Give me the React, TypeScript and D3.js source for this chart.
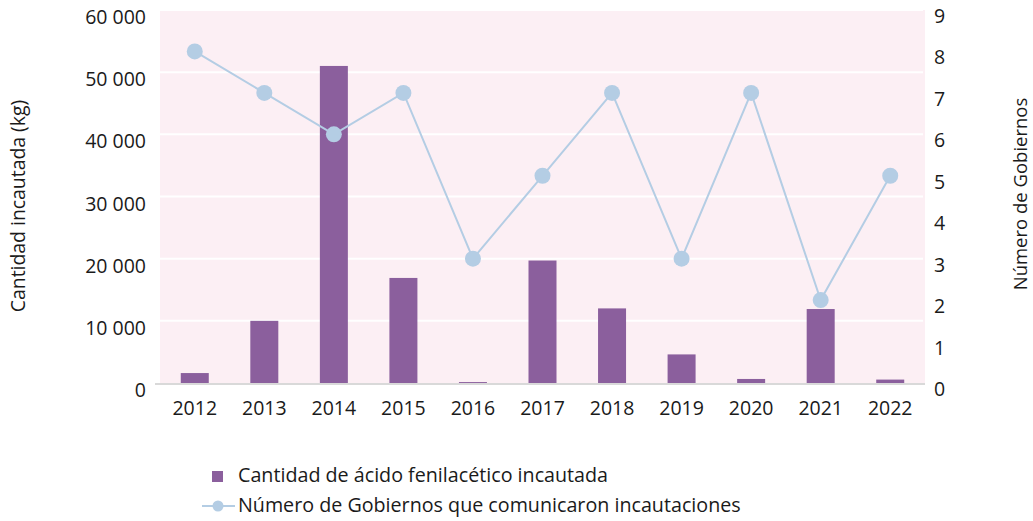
import React from "react";
import * as d3 from "d3";

const years = ["2012","2013","2014","2015","2016","2017","2018","2019","2020","2021","2022"];
const seizedKg = [1600, 10000, 51000, 16900, 150, 19700, 12000, 4600, 650, 11900, 550];
const governments = [8, 7, 6, 7, 3, 5, 7, 3, 7, 2, 5];
const leftTicks = [0, 10000, 20000, 30000, 40000, 50000, 60000];
const rightTicks = [0, 1, 2, 3, 4, 5, 6, 7, 8, 9];

const W = 1033, H = 521;
const L = 160, R = 925, T = 10, B = 383;
const font = "'Open Sans', 'Noto Sans', sans-serif";
const barColor = "#8B5F9D";
const lineColor = "#B4CDE4";
const txt = "#1a1a1a";
const fmt = (v: number) => d3.format(",")(v).replace(/,/g, " ");

export default function App() {
  const xc = d3.scaleBand<string>().domain(years).range([L, R]);
  const yL = d3.scaleLinear().domain([0, 60000]).range([B, T]);
  const yR = d3.scaleLinear().domain([0, 9]).range([B, T]);
  const cx = (y: string) => xc(y)! + xc.bandwidth() / 2;
  const line = d3.line<number>().x((_, i) => cx(years[i])).y(d => yR(d));
  const bw = 28;
  return (
    <svg width={W} height={H} style={{ position: "absolute", left: 0, top: 0, fontFamily: font }}>
      <rect x={L} y={T} width={R - L} height={B - T} fill="#FCEFF4" />
      {leftTicks.slice(1).map(t => (
        <line key={t} x1={L} x2={R - 2} y1={yL(t)} y2={yL(t)} stroke="#fff" strokeWidth={2} />
      ))}
      <line x1={L - 5} x2={R} y1={B + 1} y2={B + 1} stroke="#d9d9d9" strokeWidth={2} />
      {years.map((y, i) => (
        <rect key={y} x={cx(y) - bw / 2} y={yL(seizedKg[i])} width={bw} height={B - yL(seizedKg[i])} fill={barColor} />
      ))}
      <path d={line(governments)!} fill="none" stroke={lineColor} strokeWidth={2} />
      {governments.map((g, i) => (
        <circle key={i} cx={cx(years[i])} cy={yR(g)} r={8} fill={lineColor} />
      ))}
      {leftTicks.map(t => (
        <text key={t} x={146} y={yL(t) + 14} textAnchor="end" fontSize={19.5} fill={txt}>{fmt(t)}</text>
      ))}
      {rightTicks.map(t => (
        <text key={t} x={934} y={yR(t) + 13} textAnchor="start" fontSize={19.5} fill={txt}>{t}</text>
      ))}
      {years.map(y => (
        <text key={y} x={cx(y)} y={415} textAnchor="middle" fontSize={19.5} fill={txt}>{y}</text>
      ))}
      <text transform={`translate(25,206) rotate(-90)`} textAnchor="middle" fontSize={19.4} fill={txt}>Cantidad incautada (kg)</text>
      <text transform={`translate(1027,194) rotate(-90)`} textAnchor="middle" fontSize={18.5} fill={txt}>Número de Gobiernos</text>
      <rect x={212} y={471} width={11} height={11} fill={barColor} />
      <text x={238} y={482} fontSize={19.7} fill={txt}>Cantidad de ácido fenilacético incautada</text>
      <line x1={202} x2={235} y1={506} y2={506} stroke={lineColor} strokeWidth={2} />
      <circle cx={218} cy={506} r={5.5} fill={lineColor} />
      <text x={238} y={512} fontSize={19.7} fill={txt}>Número de Gobiernos que comunicaron incautaciones</text>
    </svg>
  );
}
